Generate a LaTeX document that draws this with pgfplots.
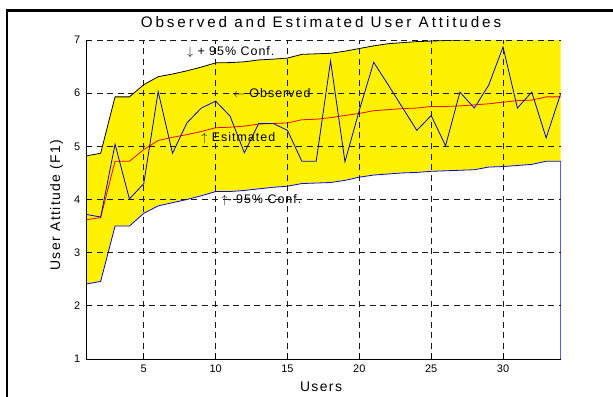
\documentclass[border=0pt]{standalone}
\usepackage{fontspec}
\setmainfont{Liberation Sans}
\newfontfamily\titlefont[LetterSpace=19]{Liberation Sans}
\newfontfamily\labelfont[LetterSpace=10]{Liberation Sans}
\newfontfamily\annfont[LetterSpace=8]{Liberation Sans}
\usepackage{pgfplots}
\usepackage{pgfplotstable}
\pgfplotsset{compat=1.18}
\usepgfplotslibrary{fillbetween}

\pgfplotstableread{
x up lo est obs
1 4.82 2.41 3.62 3.72
2 4.87 2.46 3.66 3.67
3 5.93 3.50 4.72 5.04
4 5.93 3.50 4.72 4.01
5 6.16 3.74 4.94 4.30
6 6.31 3.88 5.11 6.03
7 6.36 3.94 5.17 4.87
8 6.42 4.00 5.22 5.44
9 6.49 4.07 5.28 5.72
10 6.57 4.15 5.35 5.85
11 6.575 4.15 5.36 5.57
12 6.59 4.17 5.38 4.88
13 6.625 4.20 5.42 5.43
14 6.64 4.23 5.43 5.43
15 6.66 4.25 5.44 5.30
16 6.73 4.30 5.50 4.72
17 6.74 4.31 5.51 4.72
18 6.75 4.32 5.54 6.61
19 6.79 4.36 5.58 4.71
20 6.84 4.42 5.62 5.68
21 6.89 4.46 5.67 6.58
22 6.93 4.48 5.69 6.16
23 6.95 4.50 5.71 5.73
24 6.97 4.51 5.72 5.30
25 6.98 4.53 5.75 5.58
26 6.99 4.54 5.75 5.01
27 7.00 4.55 5.76 6.02
28 7.01 4.56 5.78 5.72
29 7.02 4.61 5.80 6.15
30 7.03 4.62 5.83 6.87
31 7.04 4.64 5.86 5.72
32 7.05 4.66 5.87 6.02
33 7.07 4.72 5.93 5.16
34 7.08 4.72 5.93 5.98
}\data

\begin{document}
\begin{tikzpicture}[x=1bp,y=1bp]
\begin{axis}[
  at={(86.3bp,37bp)}, anchor=south west,
  scale only axis, width=474.2bp, height=319bp,
  xmin=1, xmax=34, ymin=1, ymax=7,
  xtick={5,10,...,30}, ytick={1,...,7},
  axis x line*=bottom, axis y line*=left,
  axis line style={-, black, line width=0.9bp},
  tick align=inside, major tick length=5bp,
  tick style={black, line width=0.8bp},
  grid=major,
  grid style={black!90, line width=0.8bp, dash pattern=on 6bp off 4.5bp},
  axis on top,
  /pgf/number format/assume math mode=true,
  tick label style={font=\fontsize{11}{12}\selectfont, inner sep=0pt},
  yticklabel style={xshift=-6bp},
  xticklabel style={yshift=-6bp},
  clip=true,
]
\addplot[name path=up, black, line width=0.8bp] table[x=x,y=up] {\data};
\addplot[name path=lo, blue, line width=0.8bp] table[x=x,y=lo] {\data};
\addplot[yellow] fill between[of=up and lo];
\addplot[blue, line width=0.8bp] coordinates {(34,4.72) (34,1) (1,1)};
\addplot[red, line width=0.8bp] table[x=x,y=est] {\data};
\addplot[blue, line width=0.8bp] table[x=x,y=obs] {\data};
\node[anchor=west, inner sep=0pt, font=\annfont\fontsize{12.5}{14}\selectfont] at (axis cs:8,6.78) {$\downarrow$ + 95\% Conf.};
\node[anchor=west, inner sep=0pt, font=\annfont\fontsize{12.5}{14}\selectfont] at (axis cs:11.2,6.0) {$\leftarrow$ Observed};
\node[anchor=west, inner sep=0pt, font=\annfont\fontsize{12.5}{14}\selectfont] at (axis cs:9.0,5.15) {$\uparrow$ Esitmated};
\node[anchor=west, inner sep=0pt, font=\annfont\fontsize{12.5}{14}\selectfont] at (axis cs:10.4,3.98) {$\uparrow$- 95\% Conf.};
\end{axis}
\node[anchor=base, inner sep=0pt, font=\titlefont\fontsize{15.3}{17}\selectfont] at (321,369) {Observed and Estimated User Attitudes};
\node[anchor=base, inner sep=0pt, font=\labelfont\fontsize{14}{16}\selectfont] at (321,4.5) {Users};
\node[anchor=base, rotate=90, inner sep=0pt, font=\labelfont\fontsize{14}{16}\selectfont] at (60,191) {User Attitude (F1)};
\begin{scope}
\clip (0,0) rectangle (613,396);
\draw[black, line width=2.6bp] (7,-5) -- (7,385.7) -- (640,385.7);
\end{scope}
\pgfresetboundingbox
\path[use as bounding box] (0,0) rectangle (613,396);
\end{tikzpicture}
\end{document}
